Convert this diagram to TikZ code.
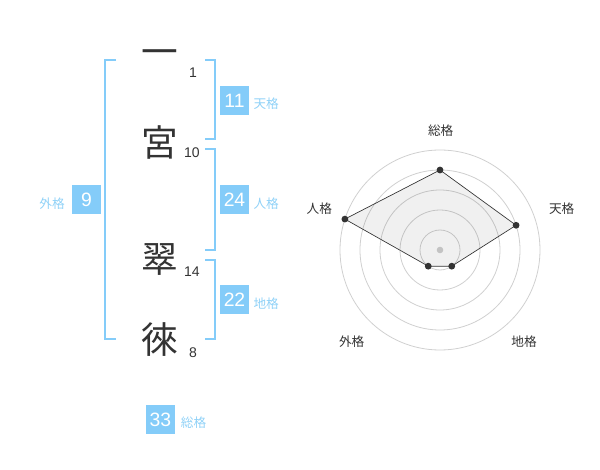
\documentclass[tikz,border=0pt]{standalone}
\usepackage{fontspec}
\setmainfont{Liberation Sans}
\newfontfamily\cjk{Noto Sans CJK JP}
\usetikzlibrary{positioning}

\definecolor{kakublue}{HTML}{84CCF9}
\definecolor{kakutext}{HTML}{8FD1F7}
\definecolor{inkgray}{HTML}{333333}
\definecolor{ringgray}{HTML}{D0D0D0}

\tikzset{
  kanji/.style={font=\cjk\fontsize{27.5}{27.5}\selectfont, text=inkgray, inner sep=0pt},
  strokes/.style={font=\fontsize{10.5}{10.5}\selectfont, text=inkgray, inner sep=0pt},
  kakubox/.style={fill=kakublue, text=white, minimum size=21.75pt, inner sep=0pt, font=\fontsize{14.5}{14.5}\selectfont},
  kakulabel/.style={font=\cjk\fontsize{9.5}{9.5}\selectfont, text=kakutext, inner sep=0pt},
  bracket/.style={draw=kakublue, line width=1.5pt},
  axislabel/.style={font=\cjk\fontsize{9.5}{9.5}\selectfont, text=inkgray, inner sep=0pt},
}

\begin{document}
\begin{tikzpicture}[x=0.75pt,y=-0.75pt]
\useasboundingbox (0,0) rectangle (600,470);

%draw the name and its stroke counts
\node [kanji] (c1) at (160,58) {一};
\node [kanji] (c2) at (160,142) {宮};
\node [kanji] (c3) at (160,260) {翠};
\node [kanji] (c4) at (160,340) {徠};
\node [strokes] (s1) at (193,73) {1};
\node [strokes] (s2) at (192,153) {10};
\node [strokes] (s3) at (192,272) {14};
\node [strokes] (s4) at (193,353) {8};

%draw the brackets
\draw [bracket] (116,60) -- (105,60) -- (105,339) -- (116,339);
\foreach \t/\b in {60/139, 149/250, 260/339} \draw [bracket] (205,\t) -- (215,\t) -- (215,\b) -- (205,\b);

%draw the boxes with their labels
\node [kakubox] (ten) at (234.5,100.5) {11};
\node [kakubox] (jin) at (234.5,200) {24};
\node [kakubox] (chi) at (234.5,300) {22};
\node [kakubox] (gai) at (86.5,200) {9};
\node [kakubox] (sou) at (160.5,419.5) {33};
\node [kakulabel, right=3pt of ten, yshift=-2.5pt] (tenlabel) {天格};
\node [kakulabel, right=3pt of jin, yshift=-2.5pt] (jinlabel) {人格};
\node [kakulabel, right=3pt of chi, yshift=-2.5pt] (chilabel) {地格};
\node [kakulabel, left=5pt of gai, yshift=-2.5pt] (gailabel) {外格};
\node [kakulabel, right=4pt of sou, yshift=-2.5pt] (soulabel) {総格};

%draw the radar chart
\begin{scope}[shift={(440,250)}, yscale=-1]
\foreach \r in {20,40,60,80,100} \draw [ringgray, line width=0.6pt] (0,0) circle (\r);
\fill [ringgray] (0,0) circle (3.3);
\coordinate (psou) at (90:80);
\coordinate (pten) at (18:80);
\coordinate (pchi) at (-54:20);
\coordinate (pgai) at (-126:20);
\coordinate (pjin) at (162:100);
\filldraw [fill=black, fill opacity=0.06, draw=inkgray, line width=0.5pt] (psou) -- (pten) -- (pchi) -- (pgai) -- (pjin) -- cycle;
\foreach \p in {psou,pten,pchi,pgai,pjin} \fill [inkgray] (\p) circle (3.4);
\node [axislabel] (asou) at (0.7,119.5) {総格};
\node [axislabel] (aten) at (121.7,41.7) {天格};
\node [axislabel] (ajin) at (-120.7,41.7) {人格};
\node [axislabel] (agai) at (-88.3,-91.7) {外格};
\node [axislabel] (achi) at (84,-91.7) {地格};
\end{scope}

\end{tikzpicture}
\end{document}
